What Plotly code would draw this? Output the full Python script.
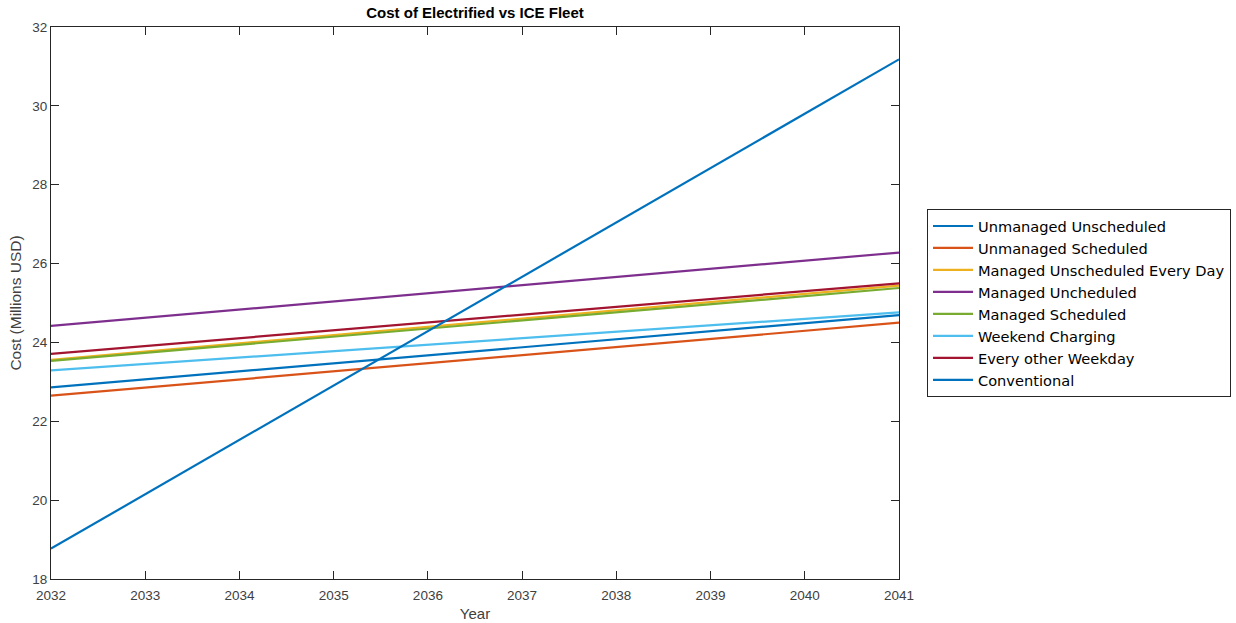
import plotly.graph_objects as go

years = [2032, 2041]

series_names = [
    "Unmanaged Unscheduled",
    "Unmanaged Scheduled",
    "Managed Unscheduled Every Day",
    "Managed Uncheduled",
    "Managed Scheduled",
    "Weekend Charging",
    "Every other Weekday",
    "Conventional",
]

unmanaged_unscheduled = [22.86, 24.69]
unmanaged_scheduled = [22.65, 24.50]
managed_unscheduled_every_day = [23.56, 25.44]
managed_uncheduled = [24.42, 26.28]
managed_scheduled = [23.53, 25.38]
weekend_charging = [23.29, 24.76]
every_other_weekday = [23.71, 25.50]
conventional = [18.77, 31.18]

series_values = [
    unmanaged_unscheduled,
    unmanaged_scheduled,
    managed_unscheduled_every_day,
    managed_uncheduled,
    managed_scheduled,
    weekend_charging,
    every_other_weekday,
    conventional,
]

colors = ["#0072BD", "#D95319", "#EDB120", "#7E2F8E",
          "#77AC30", "#4DBEEE", "#A2142F", "#0072BD"]

x_ticks = list(range(2032, 2042))
y_ticks = list(range(18, 33, 2))

fig = go.Figure()
for name, vals, c in zip(series_names, series_values, colors):
    fig.add_trace(go.Scatter(x=years, y=vals, mode="lines", name=name,
                             line=dict(color=c, width=2.2)))

axis_common = dict(
    showgrid=False, zeroline=False, showline=True, linecolor="#262626",
    linewidth=1, mirror="ticks", ticks="inside", ticklen=8, automargin=False,
    tickcolor="#262626", tickfont=dict(size=13.5, color="#404040"),
)

W, H = 1236, 623
L, T = 51, 27
PW, PH = 848, 552

fig.update_layout(
    width=W, height=H,
    margin=dict(l=L, r=W - L - PW, t=T, b=H - T - PH),
    paper_bgcolor="white", plot_bgcolor="white",
    font=dict(family="Liberation Sans, Arial, sans-serif", color="#262626"),
    title=dict(text="<b>Cost of Electrified vs ICE Fleet</b>", x=0.5, xref="paper",
               y=1 - 13 / H, yanchor="middle", automargin=False,
               font=dict(size=15, color="#000000")),
    xaxis=dict(range=[2032, 2041], tickvals=x_ticks, ticklabelstandoff=4,
               title=dict(text="Year", font=dict(size=15, color="#404040"), standoff=6),
               **axis_common),
    yaxis=dict(range=[18, 32], tickvals=y_ticks,
               title=dict(text="Cost (Millions USD)", font=dict(size=15.5, color="#404040"), standoff=6),
               **axis_common),
    legend=dict(xref="container", yref="container",
                x=927 / W, xanchor="left", y=1 - 303 / H, yanchor="middle",
                bordercolor="#262626", borderwidth=1, bgcolor="white",
                itemwidth=40,
                font=dict(size=14.6, color="#000000", family="DejaVu Sans, sans-serif"),
                tracegroupgap=0),
    showlegend=True,
)

fig.write_html("out.html",
               config={"displayModeBar": False},
               post_script="document.body.style.margin='0';document.documentElement.style.margin='0';")
